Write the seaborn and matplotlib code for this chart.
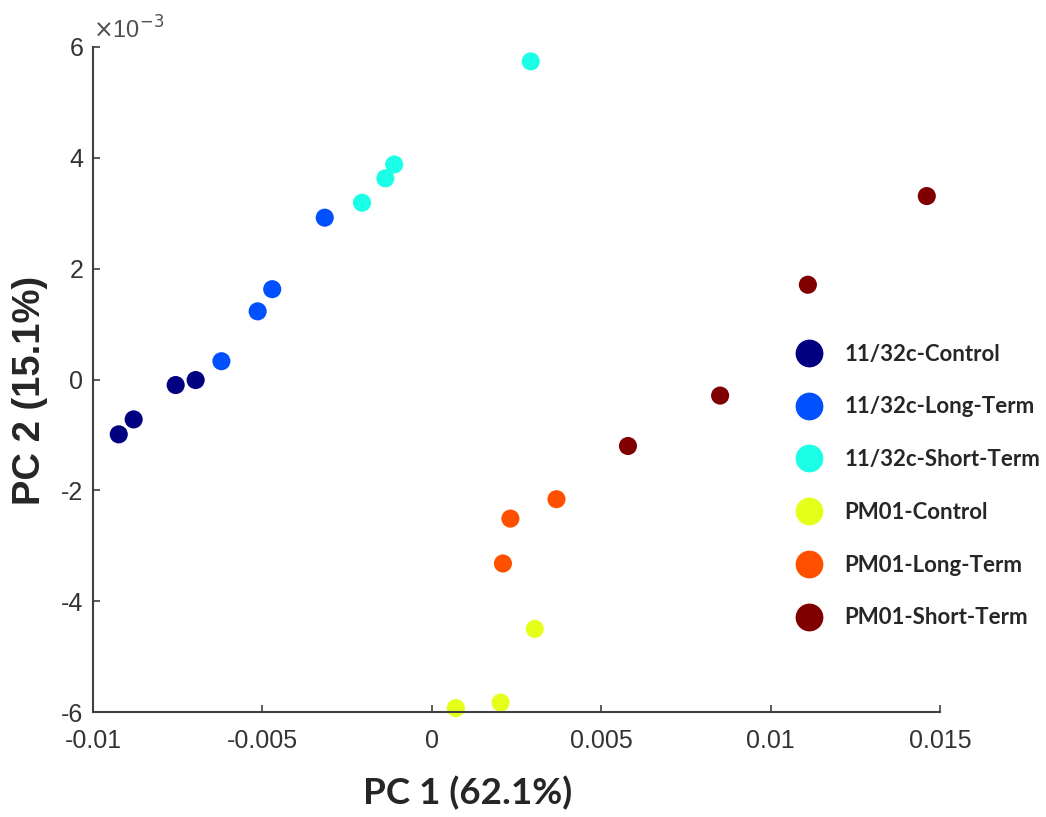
import numpy as np
import pandas as pd
import matplotlib
matplotlib.use("Agg")
import matplotlib.pyplot as plt
import seaborn as sns
from matplotlib.lines import Line2D

# ---- data (PC scores; PC2 in units of 1e-3) ----
groups = ["11/32c-Control", "11/32c-Long-Term", "11/32c-Short-Term",
          "PM01-Control", "PM01-Long-Term", "PM01-Short-Term"]
colors = ["#000080", "#0050FF", "#1AFFE5", "#E5FF1A", "#FF5000", "#800000"]

ctrl_1132_x = [-0.00924, -0.00880, -0.00756, -0.00697]
ctrl_1132_y = [-0.99, -0.72, -0.10, -0.01]
long_1132_x = [-0.00621, -0.00514, -0.00471, -0.00316]
long_1132_y = [0.33, 1.23, 1.63, 2.92]
short_1132_x = [-0.00206, -0.00137, -0.00111, 0.00292]
short_1132_y = [3.19, 3.63, 3.88, 5.74]
ctrl_pm01_x = [0.00071, 0.00203, 0.00304]
ctrl_pm01_y = [-5.93, -5.83, -4.50]
long_pm01_x = [0.00210, 0.00232, 0.00368]
long_pm01_y = [-3.32, -2.51, -2.16]
short_pm01_x = [0.00579, 0.00851, 0.01110, 0.01461]
short_pm01_y = [-1.20, -0.29, 1.71, 3.31]

xs = [ctrl_1132_x, long_1132_x, short_1132_x, ctrl_pm01_x, long_pm01_x, short_pm01_x]
ys = [ctrl_1132_y, long_1132_y, short_1132_y, ctrl_pm01_y, long_pm01_y, short_pm01_y]

xticks = [-0.01, -0.005, 0, 0.005, 0.01, 0.015]
xticklabels = ["-0.01", "-0.005", "0", "0.005", "0.01", "0.015"]
yticks = [-6, -4, -2, 0, 2, 4, 6]
yticklabels = ["-6", "-4", "-2", "0", "2", "4", "6"]

df = pd.DataFrame({
    "PC1": np.concatenate(xs),
    "PC2": np.concatenate(ys),
    "group": np.concatenate([[g] * len(x) for g, x in zip(groups, xs)]),
})

sns.set_style("white")
plt.rcParams["font.family"] = ["Liberation Sans", "DejaVu Sans"]

fig = plt.figure(figsize=(10.46, 8.17), dpi=100)
ax = fig.add_axes([93 / 1046, 1 - 712 / 817, (940 - 93) / 1046, (712 - 47) / 817])

sns.scatterplot(data=df, x="PC1", y="PC2", hue="group", hue_order=groups,
                palette=dict(zip(groups, colors)), s=170, linewidth=0,
                legend=False, ax=ax, clip_on=False)

ax.set_xlim(-0.01, 0.015)
ax.set_ylim(-6, 6)
ax.set_xticks(xticks)
ax.set_xticklabels(xticklabels)
ax.set_yticks(yticks)
ax.set_yticklabels(yticklabels)

gray = "#404040"
for side in ["top", "right"]:
    ax.spines[side].set_visible(False)
for side in ["left", "bottom"]:
    ax.spines[side].set_color(gray)
    ax.spines[side].set_linewidth(1.5)
ax.tick_params(direction="in", length=5, width=1.2, colors=gray,
               labelsize=18, labelcolor="#333333", left=True, bottom=True)
ax.tick_params(axis="x", pad=12)
ax.tick_params(axis="y", pad=7)

ax.set_xlabel("PC 1 (62.1%)", family=["Lato", "DejaVu Sans"], weight="bold", size=26.5)
ax.xaxis.label.set_va("center")
ax.xaxis.set_label_coords((468 - 93) / 847, -(793 - 712) / 665)

ax.set_ylabel("PC 2 (15.1%)", family=["Liberation Sans", "DejaVu Sans"], weight="bold", size=27.5)
ax.yaxis.label.set_va("center")
ax.yaxis.set_label_coords((30 - 93) / 847, (712 - 390) / 665)

ax.text(0.0, 1.005, r"$\times$10$^{-3}$", transform=ax.transAxes,
        fontsize=17, color="#505050", ha="left", va="bottom")

handles = [Line2D([0], [0], marker="o", linestyle="none", markersize=20,
                  markerfacecolor=c, markeredgewidth=0) for c in colors]
leg = fig.legend(handles, groups, loc="center left",
                 bbox_to_anchor=(795.7 / 1046, 1 - 486 / 817), frameon=False,
                 prop=dict(family=["Lato", "DejaVu Sans"], weight="bold", size=16),
                 labelspacing=1.43, handletextpad=1.0, borderpad=0, borderaxespad=0,
                 handlelength=1.2)

fig.savefig("out.png", dpi=100)
